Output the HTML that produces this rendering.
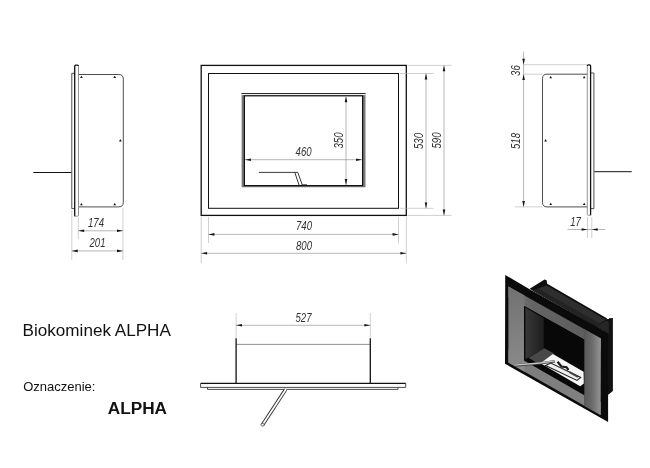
<!DOCTYPE html>
<html><head><meta charset="utf-8"><title>Biokominek ALPHA</title>
<style>
html,body{margin:0;padding:0;background:#fff;}
body{width:650px;height:468px;overflow:hidden;position:relative;font-family:"Liberation Sans",sans-serif;}
svg{position:absolute;left:0;top:0;display:block;filter:grayscale(1);}
.o{stroke:#3a3a3a;stroke-width:0.9;fill:none;}
.k{stroke:#111;stroke-width:1.3;fill:none;}
.g{stroke:#777;stroke-width:0.8;fill:none;}
.d{stroke:#858585;stroke-width:0.6;fill:none;}
.e{stroke:#b0b0b0;stroke-width:0.6;fill:none;}
.a{fill:#161616;stroke:none;}
.t{font-family:"Liberation Sans",sans-serif;font-style:italic;font-size:12.3px;fill:#333;text-anchor:middle;}
.l{font-family:"Liberation Sans",sans-serif;fill:#111;}
</style></head>
<body>
<svg width="650" height="468" viewBox="0 0 650 468">
<defs>
<linearGradient id="gface" x1="0" y1="0" x2="1" y2="0">
<stop offset="0" stop-color="#6a6a6a"/><stop offset="1" stop-color="#8c8c8c"/>
</linearGradient>
</defs>
<rect width="650" height="468" fill="#fff"/>

<g id="left">
<path class="o" d="M78.6 74.5H118.8Q123.3 74.5 123.3 79V202.4Q123.3 206.9 118.8 206.9H78.6"/>
<path class="o" d="M74.5 73.3H71.8V208.6H74.5" stroke-width="0.9"/>
<path class="k" d="M74.7 216.2V66.3Q74.7 65.2 75.8 65.2H77.4Q78.5 65.2 78.5 66.3" />
<path class="g" d="M78.5 66.3V215.2Q78.5 216.2 77.5 216.2H74.7"/>
<path d="M33.3 172.5H71.4" stroke="#111" stroke-width="1"/>
<path class="a" d="M81.4 75.8l1.4 2.3h-2.8z"/>
<path class="a" d="M114.7 75.8l1.4 2.3h-2.8z"/>
<path class="a" d="M81.4 203.0l1.4 2.3h-2.8z"/>
<path class="a" d="M114.7 203.0l1.4 2.3h-2.8z"/>
<path class="a" d="M120.4 139.1l1.4 2.3h-2.8z"/>
<path class="e" d="M78.3 217V239M122.9 208V260M71.8 210V260"/>
<path class="d" d="M78.3 230.8H122.9M71.8 250.9H122.9"/>
<path class="a" d="M78.3 230.8l5.9 -1.3v2.6zM122.9 230.8l-5.9 -1.3v2.6zM71.8 250.9l5.9 -1.3v2.6zM122.9 250.9l-5.9 -1.3v2.6z"/>
<text class="t" transform="translate(96 227) scale(0.78 1)">174</text>
<text class="t" transform="translate(97.5 246.9) scale(0.78 1)">201</text>
</g>
<g id="front">
<rect x="201.2" y="65.4" width="205.1" height="150" fill="none" stroke="#111" stroke-width="1.3"/>
<rect x="208.5" y="73.5" width="190" height="134.8" fill="none" stroke="#111" stroke-width="1"/>
<path d="M241.6 93.5H365.5V187.3H241.6Z M244.4 95.8V185.6H362.6V95.8Z" fill="#7a7a7a" fill-rule="evenodd"/>
<path d="M241.6 93.5H365.5" stroke="#1a1a1a" stroke-width="0.9" fill="none"/>
<path d="M241.6 94.6H365.5" stroke="#fff" stroke-width="1" fill="none"/>
<rect x="244.4" y="95.8" width="118.2" height="89.8" fill="#fff" stroke="#111" stroke-width="1.2"/>
<path d="M258.9 172.4H297.8L302.3 185M294.8 172.4L299 185M302.3 184.8H307" fill="none" stroke="#222" stroke-width="0.9"/>
<path class="d" d="M245 159.7H362M346 96.5V185"/>
<path class="a" d="M245 159.7l5.9 -1.3v2.6zM362 159.7l-5.9 -1.3v2.6zM346 96.4l-1.3 5.9h2.6zM346 185l-1.3 -5.9h2.6z"/>
<text class="t" transform="translate(303.6 155.6) scale(0.78 1)">460</text>
<text class="t" transform="translate(343 140.5) rotate(-90) scale(0.78 1)">350</text>
<path class="e" d="M201.2 217V263M406.3 217V263M208.5 217V243M398.5 217V243"/>
<path class="d" d="M208.5 234.4H398.5M201.2 253.3H406.3"/>
<path class="a" d="M208.5 234.4l5.9 -1.3v2.6zM398.5 234.4l-5.9 -1.3v2.6zM201.2 253.3l5.9 -1.3v2.6zM406.3 253.3l-5.9 -1.3v2.6z"/>
<text class="t" transform="translate(304 230.4) scale(0.78 1)">740</text>
<text class="t" transform="translate(304 249.6) scale(0.78 1)">800</text>
<path class="e" d="M407.5 65.4H451.5M400 73.5H433.5M400 208.3H433.5M407.5 215.4H451.5"/>
<path class="d" d="M426 73.5V208.3M444 65.4V215.4"/>
<path class="a" d="M426 73.5l-1.3 5.9h2.6zM426 208.3l-1.3 -5.9h2.6zM444 65.4l-1.3 5.9h2.6zM444 215.4l-1.3 -5.9h2.6z"/>
<text class="t" transform="translate(423 141) rotate(-90) scale(0.78 1)">530</text>
<text class="t" transform="translate(440.5 140.5) rotate(-90) scale(0.78 1)">590</text>
</g>
<g id="right">
<path class="o" d="M587.3 74.2H547Q542.5 74.2 542.5 78.7V202.4Q542.5 206.9 547 206.9H587.3"/>
<path class="o" d="M591 73H593.9V208.6H591" stroke-width="0.9"/>
<path class="k" d="M590.6 215.3V66Q590.6 64.9 589.5 64.9H588.4Q587.3 64.9 587.3 66"/>
<path class="g" d="M587.3 66V214.3Q587.3 215.3 588.3 215.3H590.6"/>
<path d="M594.3 171.7H631.7" stroke="#111" stroke-width="1"/>
<path class="a" d="M550.7 76.0l1.4 2.3h-2.8z"/>
<path class="a" d="M584.2 76.0l1.4 2.3h-2.8z"/>
<path class="a" d="M550.7 202.79999999999998l1.4 2.3h-2.8z"/>
<path class="a" d="M584.2 202.79999999999998l1.4 2.3h-2.8z"/>
<path class="a" d="M545.6 139.1l1.4 2.3h-2.8z"/>
<path class="e" d="M523.6 64.7H587M523.6 74.2H542.5M514.7 206.9H542.5M587.5 217V238M591.8 217V238"/>
<path class="d" d="M523.6 51.5V206.9M567.5 229.5H605.2"/>
<path class="a" d="M523.6 64.7l-1.3 -5.9h2.6zM523.6 74.2l-1.3 5.9h2.6zM523.6 206.9l-1.3 -5.9h2.6zM587.5 229.5l-5.9 -1.3v2.6zM591.8 229.5l5.9 -1.3v2.6z"/>
<text class="t" transform="translate(519.5 70.6) rotate(-90) scale(0.78 1)">36</text>
<text class="t" transform="translate(519.8 141) rotate(-90) scale(0.78 1)">518</text>
<text class="t" transform="translate(575.6 225.8) scale(0.78 1)">17</text>
</g>
<g id="top">
<path class="g" d="M236.1 344.4H370.3" stroke="#444"/>
<path class="k" d="M236.1 338.3V383M370.3 338.3V383" stroke-width="1.2"/>
<path d="M200.6 383.4H405.7" stroke="#111" stroke-width="1.1" fill="none"/>
<path class="o" d="M200.6 383.4V387.4H405.7V383.4" stroke-width="0.8"/>
<path class="o" d="M207.5 387.4V389.4H398V387.4" stroke-width="0.8"/>
<path d="M285.6 389.6L262.6 424.8" stroke="#333" stroke-width="3.6" stroke-linecap="butt"/>
<path d="M285.9 389.2L262.6 424.8" stroke="#fff" stroke-width="1.7"/>
<ellipse cx="262.6" cy="424.8" rx="1.7" ry="1.3" fill="#fff" stroke="#333" stroke-width="0.7"/>
<path class="e" d="M236.1 313V338M370.3 313V338"/>
<path class="d" d="M236.1 325.3H370.3"/>
<path class="a" d="M236.1 325.3l5.9 -1.3v2.6zM370.3 325.3l-5.9 -1.3v2.6z"/>
<text class="t" transform="translate(303.5 322) scale(0.78 1)">527</text>
</g>
<!-- 3D VIEW -->
<defs>
<linearGradient id="gl" gradientUnits="userSpaceOnUse" x1="508" y1="290" x2="520" y2="368">
<stop offset="0" stop-color="#727272"/><stop offset="1" stop-color="#8a8a8a"/>
</linearGradient>
<linearGradient id="gr" gradientUnits="userSpaceOnUse" x1="584.3" y1="0" x2="600.9" y2="0">
<stop offset="0" stop-color="#585858"/><stop offset="0.45" stop-color="#6a6a6a"/><stop offset="1" stop-color="#949494"/>
</linearGradient>
<linearGradient id="gb" gradientUnits="userSpaceOnUse" x1="508" y1="0" x2="600.9" y2="0">
<stop offset="0" stop-color="#7c7c7c"/><stop offset="0.8" stop-color="#808080"/><stop offset="1" stop-color="#909090"/>
</linearGradient>
<linearGradient id="gt" gradientUnits="userSpaceOnUse" x1="508" y1="0" x2="600.9" y2="0">
<stop offset="0" stop-color="#727272"/><stop offset="0.3" stop-color="#646464"/><stop offset="1" stop-color="#5c5c5c"/>
</linearGradient>
<linearGradient id="gw" gradientUnits="userSpaceOnUse" x1="525" y1="0" x2="543.7" y2="0">
<stop offset="0" stop-color="#383838"/><stop offset="1" stop-color="#1e1e1e"/>
</linearGradient>
</defs>
<g id="iso">
<!-- box right side + back flange -->
<polygon points="596,325 606.5,319 609,319 609,318.2 612.9,318 612.9,391 608.6,394.6 607,394.6 607,334" fill="#111"/>
<polygon points="596,326.4 605.8,320.8 608.8,322 608.8,334" fill="#262626"/>
<!-- box top -->
<polygon points="529.6,288.8 544.6,279.6 546.6,280.2 547.2,283.8 607.2,318.4 596.4,326.6" fill="#0e0e0e"/>
<polygon points="532.5,290.4 546.6,285.4 605.6,319.4 596.4,326.2" fill="#2e2e2e"/>
<polygon points="532.5,290.4 538,288.4 600,323.6 596.4,326.2" fill="#232323"/>
<!-- frame outer -->
<polygon points="505.2,274.9 530,289.6 596.4,326.2 608.1,333.8 608.1,422 505.0,363.8" fill="#0b0b0b"/>
<!-- gray face bands -->
<polygon points="508.4,286.4 600.9,338.4 600.9,349 508.4,297" fill="url(#gt)"/>
<polygon points="508.4,362.6 508.4,350 600.6,402 600.6,415.1" fill="url(#gb)"/>
<polygon points="508.4,286.4 524.6,295.5 524.6,371.8 508.4,362.6" fill="url(#gl)"/>
<polygon points="584,328.9 600.9,338.4 600.6,415.1 584,405.6" fill="url(#gr)"/>
<!-- opening -->
<polygon points="524,306 584.3,339.6 584.3,395.2 524,360.5" fill="#080808"/>
<polygon points="525.4,307.6 543.7,318.3 543.7,348.4 528.2,357.6 525.4,359" fill="url(#gw)"/>
<polygon points="528.4,357.8 544.4,348.2 554,353.6 541.2,363.4 538,363.6" fill="#484848"/>
<!-- tray -->
<polygon points="540.5,363.2 552.9,354.1 583.6,371.7 583.8,383.6 580.2,386.2" fill="#f6f6f6"/>
<polygon points="545.5,365.6 550.8,363.1 580.7,377.4 577,380.4" fill="#f0f0f0" stroke="#222" stroke-width="1.1"/>
<path d="M557.5 361.8L561.5 366.5L566.5 367.2L568.5 370" stroke="#1a1a1a" stroke-width="2.2" fill="none"/>
<path d="M569.5 372.2L578 376.8" stroke="#444" stroke-width="2" fill="none"/>
<!-- handle -->
<path d="M514.5 365.5L540 363.4L555 361.2" stroke="#444" stroke-width="2.4" fill="none"/>
<path d="M514.5 365.2L540 363L555 360.8" stroke="#c4c4c4" stroke-width="1.3" fill="none"/>
</g>

<text class="l" x="22.6" y="335.9" font-size="17.1">Biokominek ALPHA</text>
<text class="l" x="23.2" y="391.2" font-size="13">Oznaczenie:</text>
<text class="l" x="107.8" y="414.3" font-size="17.2" font-weight="bold">ALPHA</text>
</svg>
</body></html>
